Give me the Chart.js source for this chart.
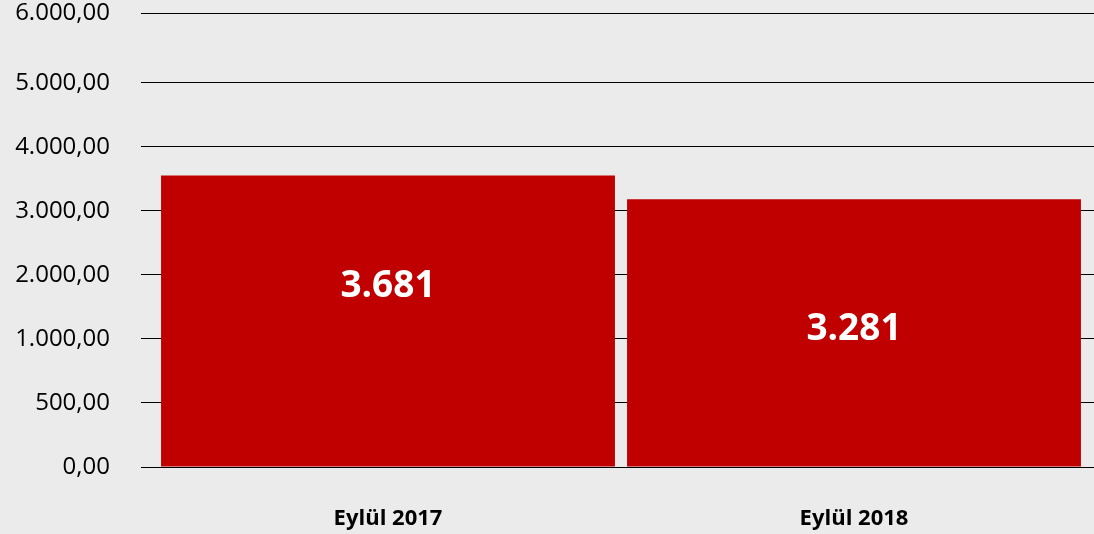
<!DOCTYPE html>
<html>
<head>
<meta charset="utf-8">
<script src="https://cdn.jsdelivr.net/npm/chart.js@4/dist/chart.umd.min.js"></script>
<style>
  html, body { margin: 0; padding: 0; background: #EBEBEB; }
  #c { display: block; }
</style>
</head>
<body>
<canvas id="c" width="1094" height="534"></canvas>
<script>
// ---- data ----
const categories = ['Eylül 2017', 'Eylül 2018'];
const barValues = [3550, 3180];
const barLabels = ['3.681', '3.281'];
const yTickValues = [0, 500, 1000, 2000, 3000, 4000, 5000, 6000];
const yTickLabels = ['0,00', '500,00', '1.000,00', '2.000,00', '3.000,00', '4.000,00', '5.000,00', '6.000,00'];

// ---- axis layout: relative spacing of the (uneven) tick marks ----
const yTickPositions = [0, 1, 2, 3, 4, 5, 6, 7.088];

class PiecewiseScale extends Chart.LinearScale {
  determineDataLimits() {
    this.min = yTickPositions[0];
    this.max = yTickPositions[yTickPositions.length - 1];
  }
  buildTicks() {
    return yTickValues.map(v => ({ value: v }));
  }
  _toPos(v) {
    const t = yTickValues, p = yTickPositions;
    for (let i = 1; i < t.length; i++) {
      if (v <= t[i]) return p[i - 1] + (v - t[i - 1]) / (t[i] - t[i - 1]) * (p[i] - p[i - 1]);
    }
    const n = t.length - 1;
    return p[n] + (v - t[n]) / (t[n] - t[n - 1]) * (p[n] - p[n - 1]);
  }
  _fromPos(pos) {
    const t = yTickValues, p = yTickPositions;
    for (let i = 1; i < p.length; i++) {
      if (pos <= p[i]) return t[i - 1] + (pos - p[i - 1]) / (p[i] - p[i - 1]) * (t[i] - t[i - 1]);
    }
    const n = p.length - 1;
    return t[n] + (pos - p[n]) / (p[n] - p[n - 1]) * (t[n] - t[n - 1]);
  }
  getPixelForValue(v) {
    if (v === null || v === undefined) return NaN;
    return super.getPixelForValue(this._toPos(v));
  }
  getValueForPixel(px) {
    return this._fromPos(super.getValueForPixel(px));
  }
}
PiecewiseScale.id = 'piecewise';
PiecewiseScale.defaults = {};
Chart.register(PiecewiseScale);

const FONT = "'Open Sans', 'Noto Sans', sans-serif";

function alignPx(p, w) {
  const half = w / 2;
  return Math.round(p - half) + half;
}

const gridExtend = {
  id: 'gridExtend',
  beforeDatasetsDraw(chart) {
    const s = chart.scales.y;
    const ctx = chart.ctx;
    ctx.save();
    ctx.strokeStyle = '#000';
    ctx.lineWidth = 1;
    ctx.beginPath();
    s.ticks.forEach((t, i) => {
      const y = alignPx(s.getPixelForTick(i), 1);
      ctx.moveTo(chart.chartArea.right, y);
      ctx.lineTo(chart.width, y);
    });
    ctx.stroke();
    ctx.restore();
  }
};

const barText = {
  id: 'barText',
  afterDatasetsDraw(chart, args, opts) {
    const meta = chart.getDatasetMeta(0);
    const ctx = chart.ctx;
    ctx.save();
    ctx.font = opts.font;
    ctx.fillStyle = opts.color;
    ctx.textAlign = 'center';
    ctx.textBaseline = 'alphabetic';
    meta.data.forEach((bar, i) => {
      const mid = (bar.y + bar.base) / 2;
      ctx.fillText(barLabels[i], bar.x, mid + opts.offsets[i]);
    });
    ctx.restore();
  }
};

new Chart(document.getElementById('c'), {
  type: 'bar',
  data: {
    labels: categories,
    datasets: [{
      data: barValues,
      backgroundColor: '#C00000',
      borderWidth: 0,
      barPercentage: 0.974,
      categoryPercentage: 1.0
    }]
  },
  options: {
    responsive: false,
    animation: false,
    layout: { padding: { top: 13, right: 7, left: 0, bottom: 0 } },
    plugins: {
      legend: { display: false },
      tooltip: { enabled: false },
      barText: {
        font: "bold 37px " + FONT,
        color: '#FFFFFF',
        offsets: [-24, 7]
      }
    },
    scales: {
      x: {
        type: 'category',
        grid: { display: false, drawTicks: false },
        border: { display: false },
        ticks: {
          color: '#000',
          font: { family: FONT, size: 22, weight: 'bold', lineHeight: 1 },
          padding: 41,
          maxRotation: 0
        },
        afterFit(scale) { scale.height = 67; scale.paddingLeft = 0; scale.paddingRight = 0; }
      },
      y: {
        type: 'piecewise',
        position: 'left',
        grid: {
          color: '#000',
          lineWidth: 1,
          drawTicks: true,
          tickLength: 14,
          tickColor: '#000'
        },
        border: { display: false },
        ticks: {
          color: '#000',
          font: { family: FONT, size: 24, lineHeight: 1 },
          padding: 31,
          autoSkip: false,
          callback: (v) => yTickLabels[yTickValues.indexOf(v)]
        },
        afterFit(scale) { scale.width = 155; scale.paddingTop = 0; scale.paddingBottom = 0; }
      }
    }
  },
  plugins: [gridExtend, barText]
});
</script>
</body>
</html>
